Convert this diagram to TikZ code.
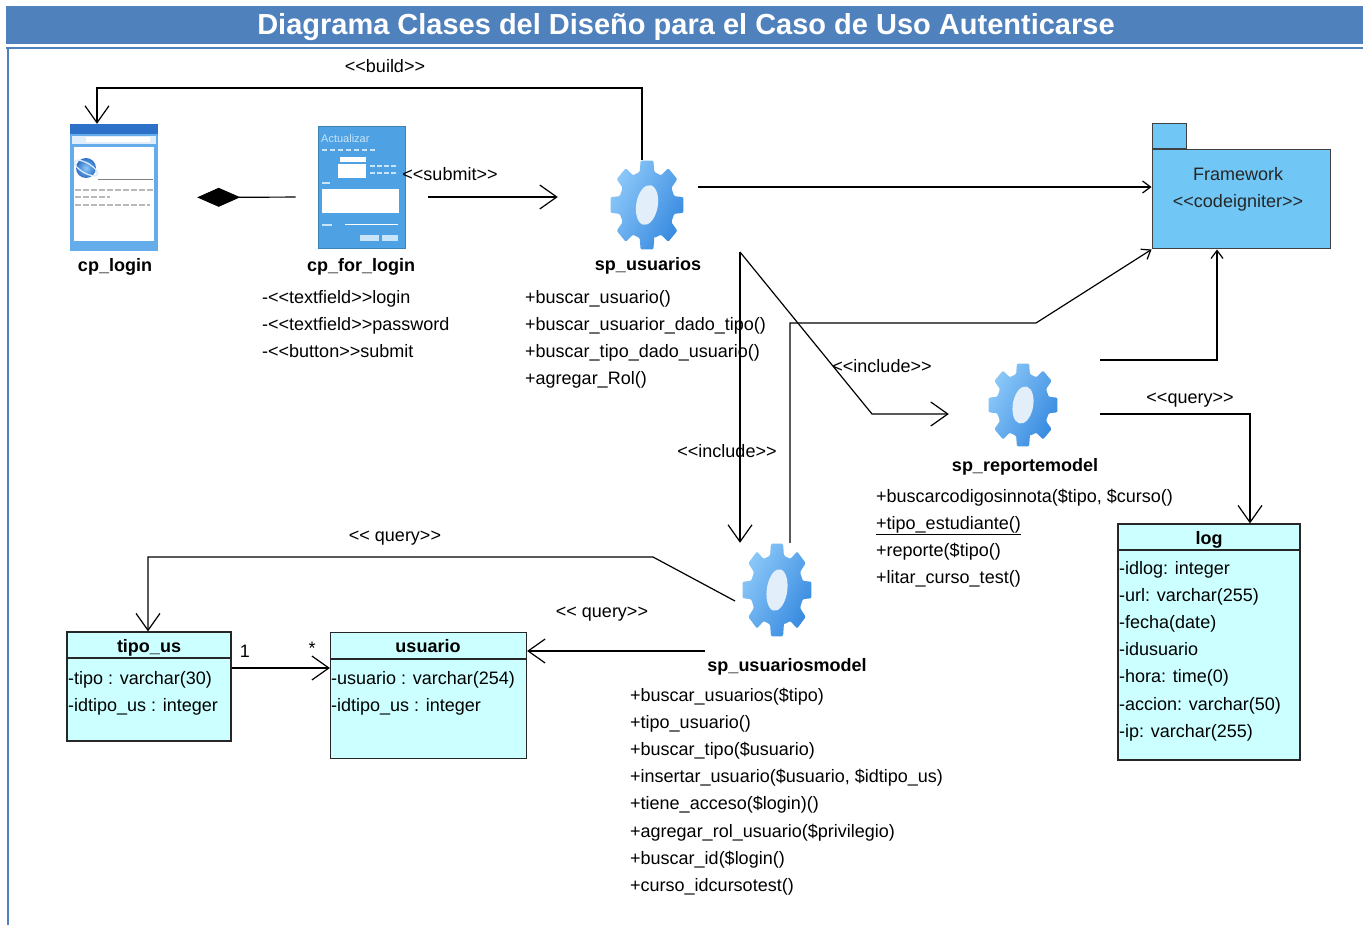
\documentclass[tikz,border=0pt]{standalone}
\usepackage{fontspec}
\setmainfont{Liberation Sans}[Ligatures=TeXOff]
\usetikzlibrary{arrows.meta}

\definecolor{hdrblue}{RGB}{79,129,189}
\definecolor{classfill}{RGB}{204,255,255}
\definecolor{pkgfill}{RGB}{112,198,245}
\definecolor{gearhi}{RGB}{140,200,248}
\definecolor{gearlo}{RGB}{55,138,224}
\definecolor{holecol}{RGB}{226,239,251}
\definecolor{winframe}{RGB}{100,172,234}
\definecolor{wintitle}{RGB}{45,112,200}
\definecolor{formblue}{RGB}{78,161,226}
\definecolor{formtext}{RGB}{200,228,248}

\begin{document}
\begin{tikzpicture}[x=1pt,y=-1pt,
  txt/.style={font=\fontsize{18}{20}\selectfont, inner sep=0pt, text height=16pt, text depth=4pt},
  ltxt/.style={txt, anchor=west},
  btxt/.style={txt, font=\fontsize{18}{20}\selectfont\bfseries},
  conn/.style={draw=black, line width=1.2pt},
  bigarr/.style={conn, -{Straight Barb[length=17pt,width=24pt]}},
  smallarr/.style={conn, -{Straight Barb[length=8pt,width=12pt]}},
  classbox/.style={draw=black!85, line width=1.2pt, fill=classfill, inner sep=0pt},
  classline/.style={draw=black!85, line width=1.2pt},
  pkgbox/.style={draw=black!75, line width=1pt, fill=pkgfill, inner sep=0pt},
  gearslot/.style={inner sep=0pt, minimum width=74pt, minimum height=90pt},
  gearicon/.pic={
    \shade[left color=gearhi, right color=gearlo, shading angle=60, rounded corners=1.2pt]
      (75:0.76) \foreach \k in {0,...,7} {
        -- ({\k*45+75}:0.76) -- ({\k*45+80}:1) -- ({\k*45+100}:1) -- ({\k*45+105}:0.76)
      } -- cycle;
    \fill[holecol, rotate=-14] (0,0) ellipse (0.29 and 0.45);
  }
]
\useasboundingbox (0,0) rectangle (1370,925);
\fill[white] (0,0) rectangle (1370,925);

% header band and frame
\fill[hdrblue] (6,6) rectangle (1363,44);
\draw[hdrblue, line width=2.5pt] (6,48) -- (1363,48);
\draw[hdrblue, line width=2pt] (8,48) -- (8,925);
\node[font=\fontsize{29}{34}\selectfont\bfseries, text=white, inner sep=0pt] (title) at (686,27)
  {Diagrama Clases del Diseño para el Caso de Uso Autenticarse};

% ---------- cp_login window icon ----------
\node[inner sep=0pt, minimum width=88pt, minimum height=127pt] (login) at (114,187.5) {};
\fill[winframe] (login.north west) rectangle (login.south east);
\fill[wintitle] (70,124) rectangle (158,134);
\fill[white!80!winframe] (72,136) rectangle (156,144);
\fill[white] (86,137.5) rectangle (150,142);
\fill[white] (74,147) rectangle (154,241);
\shade[inner color=gearhi, outer color=wintitle] (86,168) circle (10);
\draw[white!75!winframe, line width=1.3pt, rotate around={-30:(86,168)}] (86,168) ellipse (13 and 5);
\draw[gray, line width=0.8pt] (98,179) -- (153,179);
\draw[gray!55, line width=2pt, dash pattern=on 6pt off 2pt] (75,190) -- (153,190);
\draw[gray!55, line width=2pt, dash pattern=on 6pt off 2pt] (75,197) -- (110,197);
\draw[gray!55, line width=2pt, dash pattern=on 6pt off 2pt] (75,205) -- (150,205);
\node[btxt] (loginlbl) at (115,266) {cp\_login};

% ---------- cp_for_login form icon ----------
\node[inner sep=0pt, minimum width=87pt, minimum height=122pt, fill=formblue,
      draw=formblue!80!black, line width=0.8pt] (forlogin) at (361.5,187) {};
\node[font=\fontsize{11}{12}\selectfont, text=formtext, inner sep=0pt, anchor=west] (actual) at (321,139) {Actualizar};
\draw[formtext, line width=1.5pt, dash pattern=on 5pt off 3pt] (322,150) -- (376,150);
\fill[white] (340,157) rectangle (366,162);
\fill[white] (338,164) rectangle (366,178);
\draw[formtext, line width=1.5pt, dash pattern=on 5pt off 2pt] (370,166) -- (398,166);
\draw[formtext, line width=1.5pt, dash pattern=on 5pt off 2pt] (370,173) -- (398,173);
\draw[formtext, line width=1.2pt] (322,183) -- (330,183);
\fill[white] (322,189) rectangle (399,213);
\draw[formtext, line width=1.2pt] (322,225) -- (332,225);
\draw[white, line width=1pt] (345,225) -- (398,225);
\fill[formtext] (360,235) rectangle (379,241);
\fill[formtext] (382,235) rectangle (398,241);
\node[btxt] (forloginlbl) at (361,266) {cp\_for\_login};
\foreach \t [count=\i] in {{-<<textfield>>login}, {-<<textfield>>password}, {-<<button>>submit}}
  \node[ltxt] (fl-\i) at (262,{297+27*(\i-1)}) {\t};

% ---------- controller and models ----------
\node[gearslot] (us) at (647,205) {};
\path (us.center) pic[xscale=37, yscale=45] {gearicon};
\node[btxt] (uslbl) at (648,265) {sp\_usuarios};
\foreach \t [count=\i] in {{+buscar\_usuario()}, {+buscar\_usuarior\_dado\_tipo()},
    {+buscar\_tipo\_dado\_usuario()}, {+agregar\_Rol()}}
  \node[ltxt] (us-\i) at (525,{297+27*(\i-1)}) {\t};

\node[gearslot] (rep) at (1023,405) {};
\path (rep.center) pic[xscale=35, yscale=42] {gearicon};
\node[btxt] (replbl) at (1025,465) {sp\_reportemodel};
\node[ltxt] (rep-1) at (876,496) {+buscarcodigosinnota(\$tipo, \$curso()};
\node[ltxt] (rep-2) at (876,523) {\underline{+tipo\_estudiante()}};
\node[ltxt] (rep-3) at (876,550) {+reporte(\$tipo()};
\node[ltxt] (rep-4) at (876,577) {+litar\_curso\_test()};

\node[gearslot, minimum width=68pt, minimum height=94pt] (usm) at (777,590) {};
\path (usm.center) pic[xscale=35, yscale=47] {gearicon};
\node[btxt] (usmlbl) at (787,665) {sp\_usuariosmodel};
\foreach \t [count=\i] in {{+buscar\_usuarios(\$tipo)}, {+tipo\_usuario()}, {+buscar\_tipo(\$usuario)},
    {+insertar\_usuario(\$usuario, \$idtipo\_us)}, {+tiene\_acceso(\$login)()},
    {+agregar\_rol\_usuario(\$privilegio)}, {+buscar\_id(\$login()}, {+curso\_idcursotest()}}
  \node[ltxt] (usm-\i) at (630,{695+27.2*(\i-1)}) {\t};

% ---------- Framework package ----------
\node[pkgbox, minimum width=178pt, minimum height=99pt] (fw) at (1241,199.5) {};
\node[pkgbox, minimum width=34pt, minimum height=25pt, anchor=south west] (fwtab) at (fw.north west) {};
\node[txt, text=black!85] (fwname) at (1238,175) {Framework};
\node[txt, text=black!85] (fwstereo) at (1238,202) {<<codeigniter>>};

% ---------- classes ----------
\node[classbox, minimum width=164pt, minimum height=109pt] (tipo) at (149,686.5) {};
\draw[classline] (tipo.west |- 0,658) -- (tipo.east |- 0,658);
\node[btxt] (tipo-h) at (149,646) {tipo\_us};
\node[ltxt] (tipo-1) at (68,678) {-tipo : varchar(30)};
\node[ltxt] (tipo-2) at (68,705) {-idtipo\_us : integer};

\node[classbox, minimum width=196pt, minimum height=126pt] (usuario) at (428.5,695.5) {};
\draw[classline] (usuario.west |- 0,659) -- (usuario.east |- 0,659);
\node[btxt] (usuario-h) at (428,646) {usuario};
\node[ltxt] (usuario-1) at (331,678) {-usuario : varchar(254)};
\node[ltxt] (usuario-2) at (331,705) {-idtipo\_us : integer};

\node[classbox, minimum width=182pt, minimum height=236pt] (log) at (1209,642) {};
\draw[classline] (log.west |- 0,550) -- (log.east |- 0,550);
\node[btxt] (log-h) at (1209,538) {log};
\foreach \t [count=\i] in {{-idlog: integer}, {-url: varchar(255)}, {-fecha(date)}, {-idusuario},
    {-hora: time(0)}, {-accion: varchar(50)}, {-ip: varchar(255)}}
  \node[ltxt] (log-\i) at (1119,{568+27.2*(\i-1)}) {\t};

% ---------- connectors ----------
% <<build>>
\coordinate (bR) at (642,88);
\coordinate (bL) at (97,88);
\draw[bigarr] (us.north -| bR) -- (bR) -- (bL) -- (bL |- login.north);
\node[txt] (buildlbl) at (385,67) {<<build>>};

% composition cp_for_login -> cp_login
\draw[conn, -{Diamond[length=43pt,width=19pt]}, shorten <=22pt, shorten >=39pt]
  ([yshift=-10pt]forlogin.west) -- ([yshift=-10pt]login.east);

% <<submit>>
\draw[bigarr, shorten <=23pt, shorten >=52pt] ([yshift=-10pt]forlogin.east) -- ([yshift=-10pt]forlogin.east -| us.west);
\node[txt] (submitlbl) at (450,175) {<<submit>>};

% sp_usuarios -> Framework
\draw[smallarr, shorten <=14pt] ([yshift=18pt]us.east) -- ([yshift=18pt]us.east -| fw.west);

% <<include>> links
\coordinate (incS) at (740,252);
\coordinate (incB) at (872,414);
\draw[bigarr, shorten >=37pt] (incS) -- (incB) -- (incB -| rep.west);
\draw[bigarr] (incS) -- (incS |- usm.north);
\node[txt] (inclbl1) at (882,366) {<<include>>};
\node[txt] (inclbl2) at (727,451) {<<include>>};

% sp_usuariosmodel -> Framework
\coordinate (u1) at (790,323);
\coordinate (u2) at (1036,323);
\draw[smallarr] (u1 |- usm.north) -- (u1) -- (u2) -- (fw.south west);

% sp_reportemodel -> Framework
\coordinate (r0) at (1100,360);
\coordinate (r1) at (1217,360);
\draw[smallarr] (r0) -- (r1) -- (r1 |- fw.south);

% <<query>> sp_reportemodel -> log
\coordinate (q0) at (1100,414);
\coordinate (q1) at (1250,414);
\draw[bigarr] (q0) -- (q1) -- (q1 |- log.north);
\node[txt] (querylbl1) at (1190,397) {<<query>>};

% << query>> sp_usuariosmodel -> tipo_us
\coordinate (t0) at (735,601);
\coordinate (t1) at (653,557);
\coordinate (t2) at (148,557);
\draw[bigarr] (t0) -- (t1) -- (t2) -- (t2 |- tipo.north);
\node[txt] (querylbl2) at (395,535) {<< query>>};

% << query>> sp_usuariosmodel -> usuario
\coordinate (s0) at (705,651);
\draw[bigarr] (s0) -- (s0 -| usuario.east);
\node[txt] (querylbl3) at (602,611) {<< query>>};

% association tipo_us -> usuario
\draw[bigarr] (tipo.east |- 0,668) -- (usuario.west |- 0,668);
\node[txt] (mult1) at (245,651) {1};
\node[txt] (mult2) at (312,648) {*};

\end{tikzpicture}
\end{document}
